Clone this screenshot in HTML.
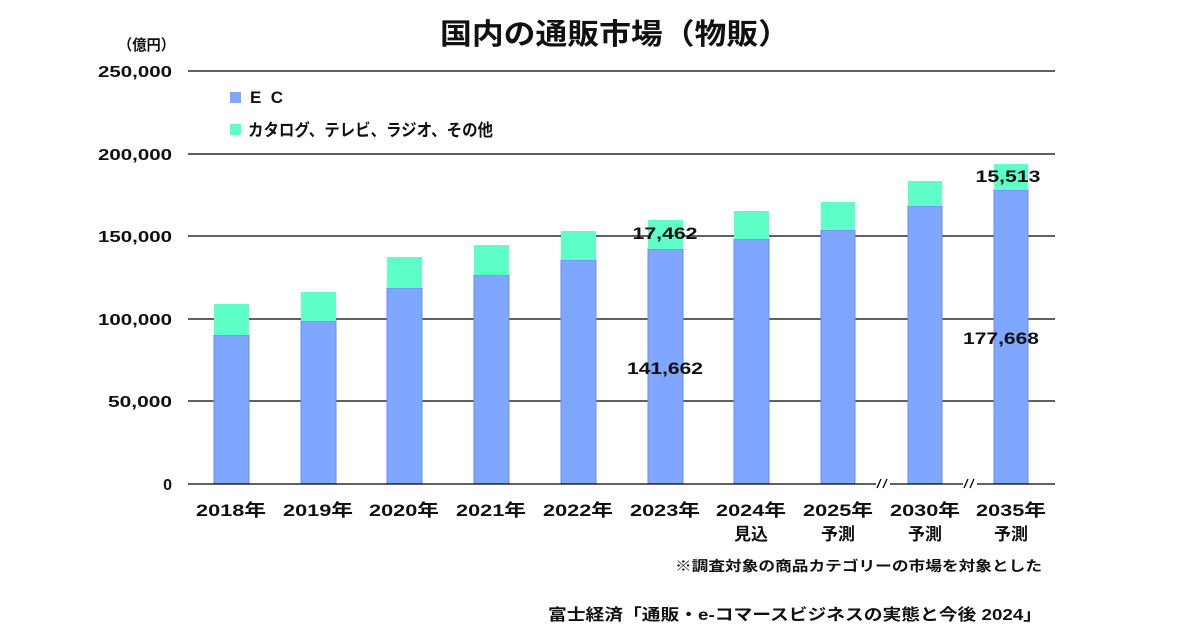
<!DOCTYPE html>
<html><head><meta charset="utf-8"><style>
body{margin:0;background:#fff}
svg text{font-family:"Liberation Sans","Noto Sans CJK JP",sans-serif;fill:#111}
</style></head><body>
<svg width="1200" height="630" viewBox="0 0 1200 630" xmlns="http://www.w3.org/2000/svg">
<text x="440" y="44" font-size="29" font-weight="bold" textLength="350" lengthAdjust="spacingAndGlyphs">国内の通販市場（物販）</text>
<text x="118" y="50" font-size="15" font-weight="bold" textLength="57" lengthAdjust="spacingAndGlyphs">（億円）</text>
<g stroke="#000" stroke-width="1.3">
<line x1="188" y1="71" x2="1055" y2="71"/><line x1="188" y1="154" x2="1055" y2="154"/>
<line x1="188" y1="236" x2="1055" y2="236"/><line x1="188" y1="319" x2="1055" y2="319"/>
<line x1="188" y1="401" x2="1055" y2="401"/>
</g>
<g font-size="16" font-weight="bold" text-anchor="end">
<text x="172" y="77" textLength="74" lengthAdjust="spacingAndGlyphs">250,000</text><text x="172" y="160" textLength="74" lengthAdjust="spacingAndGlyphs">200,000</text><text x="172" y="242" textLength="74" lengthAdjust="spacingAndGlyphs">150,000</text>
<text x="172" y="325" textLength="74" lengthAdjust="spacingAndGlyphs">100,000</text><text x="172" y="407" textLength="64" lengthAdjust="spacingAndGlyphs">50,000</text><text x="172" y="490">0</text>
</g>
<rect x="230" y="92" width="11" height="11" fill="#7fa7ff"/>
<text x="250" y="103" font-size="17" font-weight="bold" textLength="33" lengthAdjust="spacing">E C</text>
<rect x="230" y="124" width="11" height="11" fill="#5fffc8"/>
<text x="248" y="136" font-size="17" font-weight="bold" textLength="245" lengthAdjust="spacingAndGlyphs">カタログ、テレビ、ラジオ、その他</text>
<g stroke="#6a8ef0" stroke-width="1">
<rect x="214" y="335" width="35" height="149" fill="#7fa7ff"/><rect x="214" y="304" width="35" height="31" fill="#5fffc8" stroke="none"/>
<rect x="301" y="321" width="35" height="163" fill="#7fa7ff"/><rect x="301" y="292" width="35" height="29" fill="#5fffc8" stroke="none"/>
<rect x="387" y="288" width="35" height="196" fill="#7fa7ff"/><rect x="387" y="257" width="35" height="31" fill="#5fffc8" stroke="none"/>
<rect x="474" y="275" width="35" height="209" fill="#7fa7ff"/><rect x="474" y="245" width="35" height="30" fill="#5fffc8" stroke="none"/>
<rect x="561" y="260" width="35" height="224" fill="#7fa7ff"/><rect x="561" y="231" width="35" height="29" fill="#5fffc8" stroke="none"/>
<rect x="648" y="249" width="35" height="235" fill="#7fa7ff"/><rect x="648" y="220" width="35" height="29" fill="#5fffc8" stroke="none"/>
<rect x="734" y="239" width="35" height="245" fill="#7fa7ff"/><rect x="734" y="211" width="35" height="28" fill="#5fffc8" stroke="none"/>
<rect x="821" y="230" width="34" height="254" fill="#7fa7ff"/><rect x="821" y="202" width="34" height="28" fill="#5fffc8" stroke="none"/>
<rect x="908" y="206" width="34" height="278" fill="#7fa7ff"/><rect x="908" y="181" width="34" height="25" fill="#5fffc8" stroke="none"/>
<rect x="994" y="190" width="34" height="294" fill="#7fa7ff"/><rect x="994" y="164" width="34" height="26" fill="#5fffc8" stroke="none"/>
</g>
<g stroke="#000" stroke-width="1.3">
<line x1="188" y1="484" x2="876" y2="484"/><line x1="890" y1="484" x2="963" y2="484"/><line x1="977" y1="484" x2="1055" y2="484"/>
<line x1="877" y1="488" x2="881" y2="479"/><line x1="883" y1="488" x2="887" y2="479"/>
<line x1="964" y1="488" x2="968" y2="479"/><line x1="970" y1="488" x2="974" y2="479"/>
</g>
<g font-size="17" text-anchor="middle" font-weight="bold">
<text x="665" y="239" textLength="65" lengthAdjust="spacingAndGlyphs">17,462</text><text x="665" y="374" textLength="76" lengthAdjust="spacingAndGlyphs">141,662</text>
<text x="1008" y="182" textLength="65" lengthAdjust="spacingAndGlyphs">15,513</text><text x="1001" y="344" textLength="76" lengthAdjust="spacingAndGlyphs">177,668</text>
</g>
<g font-size="17" font-weight="bold" text-anchor="middle">
<text x="231" y="516" textLength="70" lengthAdjust="spacingAndGlyphs">2018年</text><text x="318" y="516" textLength="70" lengthAdjust="spacingAndGlyphs">2019年</text><text x="404" y="516" textLength="70" lengthAdjust="spacingAndGlyphs">2020年</text>
<text x="491" y="516" textLength="70" lengthAdjust="spacingAndGlyphs">2021年</text><text x="578" y="516" textLength="70" lengthAdjust="spacingAndGlyphs">2022年</text><text x="665" y="516" textLength="70" lengthAdjust="spacingAndGlyphs">2023年</text>
<text x="751" y="516" textLength="70" lengthAdjust="spacingAndGlyphs">2024年</text><text x="838" y="516" textLength="70" lengthAdjust="spacingAndGlyphs">2025年</text><text x="925" y="516" textLength="70" lengthAdjust="spacingAndGlyphs">2030年</text>
<text x="1011" y="516" textLength="70" lengthAdjust="spacingAndGlyphs">2035年</text>
<text x="751" y="540">見込</text><text x="838" y="540">予測</text><text x="925" y="540">予測</text><text x="1011" y="540">予測</text>
</g>
<text x="675" y="571" font-size="14" font-weight="bold" textLength="367" lengthAdjust="spacingAndGlyphs">※調査対象の商品カテゴリーの市場を対象とした</text>
<text x="548" y="620" font-size="16" font-weight="bold" textLength="494" lengthAdjust="spacingAndGlyphs">富士経済「通販・e-コマースビジネスの実態と今後 2024」</text>
</svg>
</body></html>
